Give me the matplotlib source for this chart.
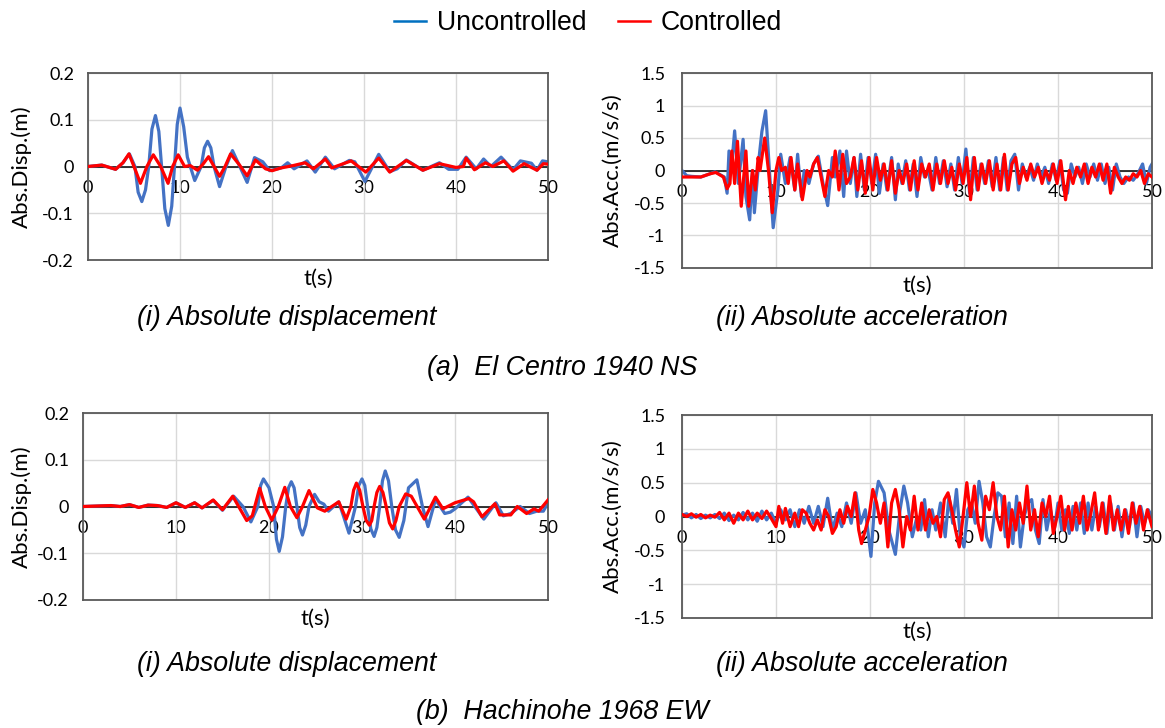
import numpy as np
import matplotlib
matplotlib.use("Agg")
import matplotlib.pyplot as plt
from matplotlib.lines import Line2D

# ---- data (time in s) ----
# (a) El Centro 1940 NS - absolute displacement (m)
ec_disp_unc_t = [0, 1.5, 3, 3.8, 4.5, 5.1, 5.45, 5.85, 6.25, 6.6, 6.95, 7.33, 7.7, 8.0, 8.35, 8.73,
                 9.1, 9.4, 9.7, 10.0, 10.4, 10.8, 11.6, 12.3, 12.65, 13.0, 13.35, 13.7, 14.3, 15.0,
                 15.7, 16.5, 17.3, 18.1, 19.0, 19.75, 21.0, 21.7, 22.4, 23.8,
                 24.7, 25.8, 26.8, 28.4, 29.0, 30.1, 31.6, 32.8, 33.6, 34.6, 36.4, 38.2, 39.2, 40.2,
                 41.1, 42.2, 43.0, 43.8, 44.9, 46.2, 47.0, 48.2, 48.8, 49.4, 50.0]
ec_disp_unc = [0, 0.003, -0.006, 0.008, 0.027, 0.0, -0.055, -0.075, -0.05, 0.0, 0.08, 0.109, 0.075,
               0.0, -0.09, -0.126, -0.085, 0.0, 0.09, 0.125, 0.085, 0.02, -0.03, 0.0, 0.04, 0.054,
               0.04, 0.0, -0.043, 0.0, 0.034, 0.0, -0.034, 0.019, 0.01, -0.009, -0.003,
               0.008, -0.005, 0.012, -0.012, 0.02, -0.005, 0.013, 0.01, -0.032, 0.026, -0.011, -0.005,
               0.014, -0.008, 0.008, -0.006, -0.006, 0.02, -0.005, 0.016, 0.0, 0.02, -0.007, 0.012,
               0.007, -0.008, 0.012, 0.01]
ec_disp_con_t = [0, 1.5, 3, 3.8, 4.45, 5.0, 5.7, 6.4, 7.1, 7.9, 8.7, 9.2, 9.8, 10.5, 11.1, 11.9, 12.5,
                 13.1, 13.7, 14.3, 14.9, 15.5, 16.4, 17.3, 18.2, 19.3, 20.0, 21.0, 22.3, 23.6, 24.5,
                 25.8, 26.5, 28.6, 30.2, 31.6, 32.8, 34.6, 36.4, 38.2, 40.0, 40.8, 41.1, 42.0, 43.2,
                 44.0, 45.2, 46.2, 47.4, 48.8, 49.5, 50.0]
ec_disp_con = [0, 0.003, -0.006, 0.008, 0.027, 0.0, -0.036, 0.0, 0.025, 0.0, -0.036, 0.0, 0.025, 0.0,
               0.002, -0.008, 0.005, 0.021, 0.0, -0.021, 0.0, 0.027, 0.005, -0.02, 0.014, -0.005,
               -0.009, -0.003, 0.002, 0.008, -0.005, 0.016, -0.003, 0.012, -0.012, 0.018, -0.012,
               0.013, -0.008, 0.006, -0.002, 0.0, 0.018, -0.007, 0.008, 0.0, 0.012, -0.01, 0.006,
               -0.008, 0.006, 0.005]

# (a) El Centro 1940 NS - absolute acceleration (m/s/s)
ec_acc_unc_t = [0, 0.5, 1, 2, 3, 3.5, 4.5, 4.8, 5.0, 5.3, 5.6, 6.0, 6.5, 6.8, 7.2, 7.5, 7.7, 8.2, 8.5,
                8.9, 9.3, 9.7, 10.2, 10.5, 11.0, 11.5, 12.0, 12.3, 12.7, 13.0, 13.5, 14.0, 14.5, 15.0,
                15.5, 16.0, 16.3, 16.8, 17.2, 17.5, 17.9, 18.3, 18.6, 19.0, 19.4, 19.8, 20.2, 20.6,
                21.0, 21.4, 21.8, 22.3, 22.7, 23.0, 23.4, 23.8, 24.2, 24.6, 25.0, 25.4, 25.8, 26.2,
                26.6, 27.0, 27.4, 27.8, 28.2, 28.6, 29.0, 29.4, 29.8, 30.2, 30.6, 31.0, 31.4, 31.8,
                32.2, 32.6, 33.0, 33.4, 33.8, 34.2, 34.6, 35.0, 35.4, 35.8, 36.2, 36.6, 37.0, 37.4,
                37.8, 38.2, 38.6, 39.0, 39.4, 39.8, 40.2, 40.6, 41.0, 41.4, 41.8, 42.2, 42.6, 43.0,
                43.4, 43.8, 44.2, 44.6, 45.0, 45.4, 45.8, 46.2, 46.6, 47.0, 47.5, 48.0, 48.5, 49.0,
                49.4, 49.8, 50.0]
ec_acc_unc = [0.0, -0.08, -0.09, -0.1, -0.05, -0.02, -0.1, -0.35, 0.3, 0.1, 0.61, -0.2, 0.48, -0.4,
              -0.76, 0.0, -0.65, 0.2, 0.6, 0.92, 0.0, -0.88, -0.3, 0.25, -0.2, 0.2, -0.3, 0.25, -0.4,
              0.0, -0.2, 0.1, 0.22, -0.2, -0.54, 0.2, -0.1, 0.3, -0.4, 0.3, -0.2, 0.2, -0.4, 0.25,
              -0.3, 0.2, -0.2, 0.25, -0.35, 0.1, -0.3, 0.2, -0.45, 0.1, -0.2, 0.15, -0.3, 0.1, -0.4,
              0.2, -0.1, 0.0, -0.3, 0.2, -0.2, 0.15, -0.25, 0.1, -0.3, 0.2, -0.2, 0.33, -0.35, 0.2,
              -0.3, 0.1, -0.2, 0.15, -0.25, 0.2, -0.3, 0.2, -0.3, 0.15, 0.25, -0.3, 0.1, -0.1, 0.05,
              -0.15, 0.1, -0.1, 0.05, -0.2, 0.1, -0.15, 0.15, -0.3, -0.35, 0.1, -0.1, 0.05, -0.2,
              0.1, -0.1, 0.1, -0.15, 0.1, -0.2, 0.05, -0.3, 0.1, -0.1, -0.2, -0.1, -0.15, -0.05,
              0.1, -0.2, 0.05, 0.1]
ec_acc_con_t = [0, 1, 2, 3, 3.6, 4.4, 4.8, 5.1, 5.3, 5.6, 5.9, 6.3, 6.8, 7.1, 7.5, 7.8, 8.1, 8.3, 8.8,
                9.2, 9.6, 10.0, 10.3, 10.6, 11.0, 11.3, 11.6, 12.0, 12.3, 12.8, 13.3, 13.6, 14.0,
                14.4, 14.8, 15.2, 15.6, 16.0, 16.3, 16.7, 17.1, 17.5, 17.9, 18.3, 18.7, 19.1, 19.5,
                19.9, 20.3, 20.7, 21.1, 21.5, 21.9, 22.3, 22.7, 23.1, 23.5, 23.9, 24.3, 24.7, 25.1,
                25.5, 25.9, 26.3, 26.7, 27.1, 27.5, 27.9, 28.3, 28.7, 29.1, 29.5, 29.9, 30.3, 30.7,
                31.1, 31.5, 31.9, 32.3, 32.7, 33.1, 33.5, 33.9, 34.3, 34.7, 35.1, 35.5, 35.9, 36.3,
                36.7, 37.1, 37.5, 37.9, 38.3, 38.7, 39.1, 39.5, 39.9, 40.3, 40.8, 41.2, 41.6, 42.0,
                42.4, 42.8, 43.2, 43.6, 44.0, 44.4, 44.8, 45.2, 45.6, 46.0, 46.4, 46.8, 47.2, 47.6,
                48.0, 48.4, 48.8, 49.2, 49.6, 50.0]
ec_acc_con = [-0.1, -0.1, -0.1, -0.05, -0.03, -0.1, -0.28, -0.2, 0.3, -0.2, 0.45, -0.55, 0.3, -0.55,
              0.0, -0.3, 0.2, 0.0, 0.5, 0.0, -0.65, 0.0, 0.2, 0.0, 0.05, -0.2, 0.2, -0.3, 0.1, -0.45,
              0.0, -0.1, 0.1, 0.2, -0.1, -0.4, 0.0, -0.1, 0.3, -0.3, 0.25, -0.2, -0.1, 0.2, -0.3,
              0.15, -0.35, 0.2, -0.3, 0.2, -0.15, 0.1, -0.3, 0.15, -0.35, 0.0, -0.2, 0.1, -0.3, 0.15,
              -0.3, 0.1, -0.1, 0.1, -0.3, 0.1, -0.2, 0.15, -0.2, 0.05, -0.3, 0.1, -0.2, 0.2, -0.45,
              0.2, -0.3, 0.1, -0.2, 0.15, -0.3, 0.1, -0.3, 0.25, -0.3, 0.1, 0.2, -0.2, 0.05, -0.15,
              0.1, -0.1, 0.05, -0.2, 0.0, -0.15, 0.1, -0.2, 0.15, -0.45, 0.0, -0.2, 0.05, -0.1, 0.1,
              -0.2, 0.05, -0.1, 0.1, -0.15, 0.1, -0.35, 0.05, -0.1, -0.2, -0.1, -0.15, -0.05, -0.1,
              0.0, -0.2, -0.05, -0.1]

# (b) Hachinohe 1968 EW - absolute displacement (m)
ha_disp_unc_t = [0, 3, 4, 5, 6, 7, 8, 9, 10, 11, 12, 12.8, 14.0, 15.0, 16.2, 17.2, 18.05, 18.8, 19.1,
                 19.4, 20.0, 20.5, 20.8, 21.1, 21.45, 21.8, 22.1, 22.4, 22.7, 23.0, 23.3, 23.6,
                 23.95, 24.3, 24.9, 25.4, 25.9, 26.4, 27.5, 28.0, 28.6, 29.3, 29.65, 30.0, 30.3,
                 30.6, 30.95, 31.3, 31.6, 31.9, 32.2, 32.5, 32.85, 33.2, 33.6, 34.0, 34.5, 35.0,
                 35.9, 36.5, 37.1, 37.9, 38.9, 39.5, 40.0, 41.4, 43.1, 44.4, 45.2, 46.0, 47.0, 48.0,
                 48.8, 49.5, 50.0]
ha_disp_unc = [0, 0.002, 0, 0.004, -0.002, 0.003, 0.002, -0.002, 0.008, -0.002, 0.008, -0.003, 0.013,
               -0.008, 0.022, 0.0, -0.033, 0.0, 0.045, 0.059, 0.04, 0.0, -0.07, -0.096, -0.065, 0.0,
               0.04, 0.053, 0.04, 0.0, -0.045, -0.061, -0.04, 0.0, 0.026, 0.01, 0.005, -0.01, 0.01,
               -0.02, -0.057, 0.0, 0.045, 0.059, 0.045, 0.0, -0.048, -0.064, -0.045, 0.0, 0.055,
               0.076, 0.055, 0.0, -0.05, -0.066, -0.03, 0.04, 0.057, 0.0, -0.043, 0.015, -0.015,
               -0.012, -0.005, 0.02, -0.027, 0.008, -0.02, -0.015, 0.0, -0.015, -0.01, -0.01, 0.008]
ha_disp_con_t = [0, 3, 4, 5, 6, 7, 8, 9, 10, 11, 12, 12.8, 14.0, 15.0, 16.1, 17.6, 18.2, 19.0, 19.6,
                 20.3, 21.0, 21.7, 22.3, 23.0, 23.6, 24.3, 25.2, 26.0, 27.5, 28.3, 28.8, 29.1, 29.4,
                 29.75, 30.1, 30.45, 30.8, 31.05, 31.3, 31.6, 31.9, 32.25, 32.6, 32.95, 33.3, 33.65,
                 34.0, 34.7, 35.3, 36.7, 37.9, 38.7, 40.0, 41.5, 42.0, 42.9, 44.3, 44.8, 46.0, 46.7,
                 47.7, 48.5, 49.0, 50.0]
ha_disp_con = [0, 0.002, 0, 0.004, -0.002, 0.003, 0.002, -0.002, 0.008, -0.002, 0.008, -0.003, 0.014,
               -0.007, 0.022, -0.03, -0.02, 0.039, 0.0, -0.029, 0.0, 0.041, 0.0, -0.024, 0.0, 0.034,
               -0.003, -0.01, 0.01, -0.027, 0.0, 0.035, 0.05, 0.035, 0.0, -0.03, -0.04, -0.03, 0.0,
               0.03, 0.043, 0.03, 0.0, -0.035, -0.048, -0.03, 0.0, 0.027, 0.022, -0.027, 0.02,
               -0.005, 0.008, 0.017, 0.01, -0.022, 0.006, -0.018, -0.018, 0.0, -0.015, -0.005,
               -0.01, 0.014]

# (b) Hachinohe 1968 EW - absolute acceleration (m/s/s)
ha_acc_unc_t = [0, 0.5, 1, 1.5, 2, 2.5, 3, 3.5, 4, 4.5, 5, 5.5, 6, 6.5, 7, 7.5, 8, 8.5, 9, 9.5, 10,
                10.5, 11, 11.5, 12, 12.5, 13, 13.5, 14, 14.5, 15, 15.5, 16, 16.5, 17, 17.5, 18, 18.5,
                19, 19.5, 20.1, 20.5, 20.9, 21.5, 22.0, 22.7, 23.2, 23.6, 24.0, 24.5, 25.0, 25.4,
                25.8, 26.2, 26.6, 27.0, 27.5, 28.0, 28.4, 28.8, 29.2, 29.6, 30.0, 30.4, 30.8, 31.2,
                31.6, 32.0, 32.4, 32.8, 33.2, 33.6, 34.0, 34.4, 34.8, 35.2, 35.6, 36.0, 36.4, 36.8,
                37.2, 37.6, 38.0, 38.4, 38.8, 39.2, 39.6, 40.0, 40.4, 40.8, 41.2, 41.6, 42.0, 42.4,
                42.8, 43.2, 43.6, 44.0, 44.4, 44.8, 45.2, 45.6, 46.0, 46.4, 46.8, 47.2, 47.6, 48.0,
                48.4, 48.8, 49.2, 49.6, 50.0]
ha_acc_unc = [0.02, 0.04, -0.02, 0.03, -0.03, 0.02, -0.02, 0.03, -0.03, 0.05, -0.06, 0.02, -0.05, 0.06,
              -0.05, 0.05, -0.07, 0.08, -0.05, 0.05, -0.1, 0.1, -0.05, 0.1, -0.15, 0.1, -0.1, 0.15,
              -0.1, 0.15, -0.15, 0.27, -0.2, 0.05, -0.15, 0.2, -0.1, 0.35, -0.1, 0.1, -0.59, 0.2,
              0.52, 0.35, -0.2, -0.56, 0.1, 0.45, 0.2, -0.3, 0.0, -0.2, 0.25, -0.3, 0.1, -0.2, 0.2,
              -0.3, 0.3, -0.1, 0.4, -0.3, -0.45, 0.1, 0.2, -0.1, 0.52, 0.2, -0.3, -0.45, 0.0, 0.35,
              0.3, -0.3, 0.2, -0.4, 0.3, -0.45, 0.0, 0.2, 0.25, -0.2, -0.4, 0.25, -0.2, 0.1, -0.2,
              0.2, -0.2, 0.1, -0.25, 0.15, -0.2, 0.2, -0.25, 0.2, -0.2, 0.15, -0.15, 0.2, -0.25,
              0.2, -0.2, 0.15, -0.3, 0.1, -0.15, 0.2, -0.3, 0.15, -0.1, 0.1, 0.0]
ha_acc_con_t = [0, 0.5, 1, 1.5, 2, 2.5, 3, 3.5, 4, 4.5, 5, 5.5, 6, 6.5, 7, 7.5, 8, 8.5, 9, 9.5, 10,
                10.3, 10.7, 11.0, 11.5, 12.0, 12.4, 12.8, 13.2, 13.6, 14.0, 14.4, 14.8, 15.2, 15.6,
                16.0, 16.4, 16.8, 17.2, 17.6, 18.0, 18.4, 18.8, 19.1, 19.5, 19.9, 20.3, 20.7, 21.1,
                21.5, 21.9, 22.3, 22.7, 23.1, 23.5, 23.9, 24.3, 24.7, 25.1, 25.5, 25.9, 26.3, 26.7,
                27.1, 27.5, 27.9, 28.3, 28.7, 29.1, 29.5, 29.9, 30.3, 30.7, 31.1, 31.5, 31.9, 32.3,
                32.7, 33.1, 33.5, 33.9, 34.3, 34.7, 35.1, 35.5, 35.9, 36.3, 36.7, 37.1, 37.5, 37.9,
                38.3, 38.7, 39.1, 39.5, 39.9, 40.3, 40.7, 41.1, 41.5, 41.9, 42.3, 42.7, 43.1, 43.5,
                43.9, 44.3, 44.7, 45.1, 45.5, 45.9, 46.3, 46.7, 47.1, 47.5, 47.9, 48.3, 48.7, 49.1,
                49.5, 50.0]
ha_acc_con = [0.03, 0.0, 0.04, -0.01, 0.03, -0.02, 0.02, -0.01, 0.06, -0.05, 0.05, -0.1, 0.05, -0.05,
              0.08, -0.05, 0.05, -0.03, 0.08, -0.03, -0.15, 0.15, -0.1, 0.12, -0.15, 0.05, -0.15,
              0.1, 0.05, -0.1, -0.2, -0.05, -0.2, 0.1, 0.0, -0.25, -0.15, 0.1, -0.1, 0.15, 0.0,
              0.35, -0.2, -0.4, -0.2, 0.0, 0.4, 0.2, -0.1, 0.2, -0.45, 0.2, 0.4, 0.1, -0.45, 0.0,
              -0.2, 0.3, -0.2, 0.2, -0.2, 0.1, -0.1, 0.0, -0.3, 0.25, 0.35, 0.1, -0.2, -0.45, 0.0,
              0.5, 0.0, 0.45, -0.1, -0.35, 0.3, 0.1, 0.5, 0.0, -0.2, 0.3, -0.45, 0.1, -0.2, 0.2,
              -0.1, 0.45, -0.2, 0.1, -0.3, 0.2, 0.0, 0.3, -0.25, 0.0, 0.3, -0.2, 0.15, -0.2, 0.2,
              -0.1, 0.3, -0.2, 0.05, 0.35, -0.2, 0.2, -0.25, 0.3, -0.2, 0.1, -0.2, 0.1, -0.25, 0.2,
              -0.1, 0.15, -0.2, 0.1, -0.15]

x_ticks = [0, 10, 20, 30, 40, 50]
disp_ticks = [-0.2, -0.1, 0, 0.1, 0.2]
acc_ticks = [-1.5, -1, -0.5, 0, 0.5, 1, 1.5]
disp_labels = ["-0.2", "-0.1", "0", "0.1", "0.2"]
acc_labels = ["-1.5", "-1", "-0.5", "0", "0.5", "1", "1.5"]

BLUE = "#4472C4"
RED = "#FF0000"
TICK_FONT = "Lato"
CAP_FONT = "Liberation Sans"

W, H = 1165, 728
fig = plt.figure(figsize=(W / 100, H / 100), dpi=100)


def px_axes(left, top, right, bottom):
    return fig.add_axes([left / W, 1 - bottom / H, (right - left) / W, (bottom - top) / H])


def style_panel(ax, yticks, ylabels, ylabel, ylab_x, xlab_y, pad):
    ax.set_xlim(0, 50)
    ax.set_ylim(yticks[0], yticks[-1])
    ax.set_xticks(x_ticks)
    ax.set_yticks(yticks)
    ax.set_yticklabels(ylabels, fontfamily=TICK_FONT, fontsize=13)
    ax.tick_params(axis="x", length=0, labelbottom=False)
    ax.tick_params(axis="y", length=0, pad=pad)
    ax.grid(True, color="#d9d9d9", lw=1.0)
    ax.set_axisbelow(True)
    for s in ax.spines.values():
        s.set_color("#595959")
        s.set_linewidth(1.3)
    ax.axhline(0, color="black", lw=1.1, zorder=1.5)
    # x tick labels sit just under the zero line, Excel style
    sec = ax.secondary_xaxis(0.5)
    sec.set_alignment("bottom")
    sec.set_xticks(x_ticks)
    sec.set_xticklabels([str(v) for v in x_ticks], fontfamily=TICK_FONT, fontsize=13)
    sec.tick_params(length=0, pad=10)
    for s in sec.spines.values():
        s.set_visible(False)
    ax.set_ylabel(ylabel, fontfamily=TICK_FONT, fontsize=16)
    ax.yaxis.set_label_coords(ylab_x, 0.5)
    ax.set_xlabel("t(s)", fontfamily=TICK_FONT, fontsize=16)
    ax.xaxis.set_label_coords(0.5, xlab_y)


panels = [
    ((88, 73, 548, 260), ec_disp_unc_t, ec_disp_unc, ec_disp_con_t, ec_disp_con,
     disp_ticks, disp_labels, "Abs.Disp.(m)", -0.122, -0.045, 10),
    ((682, 73, 1152, 268), ec_acc_unc_t, ec_acc_unc, ec_acc_con_t, ec_acc_con,
     acc_ticks, acc_labels, "Abs.Acc.(m/s/s)", -0.126, -0.04, 12),
    ((83, 413, 548, 600), ha_disp_unc_t, ha_disp_unc, ha_disp_con_t, ha_disp_con,
     disp_ticks, disp_labels, "Abs.Disp.(m)", -0.110, -0.045, 10),
    ((682, 415, 1152, 618), ha_acc_unc_t, ha_acc_unc, ha_acc_con_t, ha_acc_con,
     acc_ticks, acc_labels, "Abs.Acc.(m/s/s)", -0.126, -0.02, 12),
]

for box, tu, yu, tc, yc, yt, yl, ylab, lx, ly, pad in panels:
    ax = px_axes(*box)
    ax.plot(tu, yu, color=BLUE, lw=2.3, zorder=2, solid_joinstyle="round")
    ax.plot(tc, yc, color=RED, lw=2.3, zorder=3, solid_joinstyle="round")
    style_panel(ax, yt, yl, ylab, lx, ly, pad)

# captions
cap = dict(fontfamily=CAP_FONT, style="italic", fontsize=19.3, ha="center", va="center")
fig.text(287 / W, 1 - 318 / H, "(i) Absolute displacement", **cap)
fig.text(862 / W, 1 - 318 / H, "(ii) Absolute acceleration", **cap)
fig.text(562 / W, 1 - 368 / H, "(a)  El Centro 1940 NS", **cap)
fig.text(287 / W, 1 - 664 / H, "(i) Absolute displacement", **cap)
fig.text(862 / W, 1 - 664 / H, "(ii) Absolute acceleration", **cap)
fig.text(562 / W, 1 - 712 / H, "(b)  Hachinohe 1968 EW", **cap)

handles = [Line2D([], [], color="#0070C0", lw=1.8), Line2D([], [], color=RED, lw=1.8)]
fig.legend(handles, ["Uncontrolled", "Controlled"], loc="center", bbox_to_anchor=(588 / W, 1 - 23 / H),
           ncol=2, frameon=False, prop={"family": CAP_FONT, "size": 19.2}, handlelength=1.2,
           handletextpad=0.4, columnspacing=1.2)

fig.savefig("out.png", dpi=100)
